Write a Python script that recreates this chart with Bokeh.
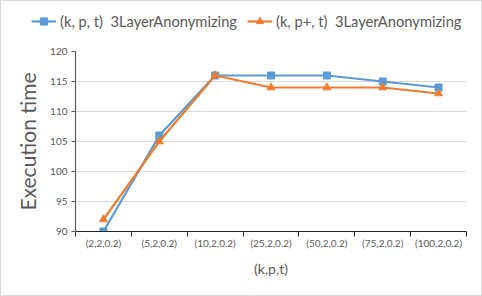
from bokeh.plotting import figure
from bokeh.layouts import column
from bokeh.models import Range1d, FixedTicker, Legend, LegendItem, ColumnDataSource
from bokeh.embed import file_html
from bokeh.resources import INLINE

categories = ["(2,2,0.2)", "(5,2,0.2)", "(10,2,0.2)", "(25,2,0.2)", "(50,2,0.2)", "(75,2,0.2)", "(100,2,0.2)"]
series_kpt = [90, 106, 116, 116, 116, 115, 114]
series_kppt = [92, 105, 116, 114, 114, 114, 113]
label_kpt = "(k, p, t)  3LayerAnonymizing"
label_kppt = "(k, p+, t)  3LayerAnonymizing"
y_ticks = [90, 95, 100, 105, 110, 115, 120]

xs = [i + 0.5 for i in range(len(categories))]
src = ColumnDataSource(dict(x=xs, a=series_kpt, b=series_kppt))

FONT = "Lato"
GRAY = "#595959"
BLUE = "#5b9bd5"
ORANGE = "#ed7d31"

p = figure(width=480, height=254, output_backend="svg", toolbar_location=None,
           x_range=Range1d(0, len(categories)), y_range=Range1d(90, 120),
           min_border_left=74, min_border_right=15, min_border_top=10, min_border_bottom=64)
p.frame_align = False
p.outline_line_color = None
p.background_fill_color = "white"
p.border_fill_color = "white"

# grid
p.xgrid.visible = False
p.ygrid.ticker = FixedTicker(ticks=y_ticks)
p.ygrid.grid_line_color = "#d9d9d9"
p.ygrid.grid_line_width = 1

# x axis
xa = p.xaxis[0]
xa.ticker = FixedTicker(ticks=xs, minor_ticks=list(range(len(categories) + 1)))
xa.major_label_overrides = {x: c for x, c in zip(xs, categories)}
xa.major_tick_out = 0
xa.major_tick_in = 0
xa.minor_tick_out = 5
xa.minor_tick_in = 0
xa.minor_tick_line_color = "#262626"
xa.axis_line_color = "#262626"
xa.axis_line_width = 1.2
xa.major_label_text_font = FONT
xa.major_label_text_font_size = "10px"
xa.major_label_text_color = GRAY
xa.major_label_standoff = 0
xa.axis_label = "(k,p,t)"
xa.axis_label_text_font = FONT
xa.axis_label_text_font_size = "14px"
xa.axis_label_text_font_style = "normal"
xa.axis_label_text_color = GRAY
xa.axis_label_standoff = 8

# y axis
ya = p.yaxis[0]
ya.ticker = FixedTicker(ticks=y_ticks)
ya.major_tick_out = 4
ya.major_tick_in = 0
ya.minor_tick_out = 0
ya.minor_tick_in = 0
ya.major_tick_line_color = GRAY
ya.axis_line_color = GRAY
ya.axis_line_width = 1.2
ya.major_label_text_font = FONT
ya.major_label_text_font_size = "10px"
ya.major_label_text_color = GRAY
ya.major_label_standoff = 4
ya.axis_label = "Execution time"
ya.axis_label_text_font = FONT
ya.axis_label_text_font_size = "21px"
ya.axis_label_text_font_style = "normal"
ya.axis_label_text_color = GRAY
ya.axis_label_standoff = 7

p.line("x", "a", source=src, line_color=BLUE, line_width=2.2)
p.scatter("x", "a", source=src, marker="square", size=7, fill_color=BLUE, line_color=BLUE)
p.line("x", "b", source=src, line_color=ORANGE, line_width=2.2)
p.scatter("x", "b", source=src, marker="triangle", size=8, fill_color=ORANGE, line_color=ORANGE)

# legend strip (same series, drawn outside its visible range so only the legend shows)
lg = figure(width=480, height=40, output_backend="svg", toolbar_location=None,
            x_axis_location=None, y_axis_location=None,
            x_range=Range1d(0, len(categories)), y_range=Range1d(1000, 1001),
            min_border_left=30, min_border_top=11, min_border_right=0, min_border_bottom=0)
lg.frame_align = False
lg.grid.visible = False
lg.outline_line_color = None
l1 = lg.line("x", "a", source=src, line_color=BLUE, line_width=2.2)
m1 = lg.scatter("x", "a", source=src, marker="square", size=7, fill_color=BLUE, line_color=BLUE)
l2 = lg.line("x", "b", source=src, line_color=ORANGE, line_width=2.2)
m2 = lg.scatter("x", "b", source=src, marker="triangle", size=8, fill_color=ORANGE, line_color=ORANGE)
legend = Legend(items=[LegendItem(label=label_kpt, renderers=[l1, m1]),
                       LegendItem(label=label_kppt, renderers=[l2, m2])],
                orientation="horizontal", location="top_left",
                glyph_width=25, glyph_height=18, label_standoff=4, spacing=10,
                padding=0, margin=0, border_line_color=None, background_fill_alpha=0,
                label_text_font=FONT, label_text_font_size="14.7px", label_text_color=GRAY)
lg.add_layout(legend, "center")

layout = column(lg, p, spacing=0)
layout.styles = {"border": "1px solid #d9d9d9"}

open("out.html", "w").write(file_html(layout, INLINE))
